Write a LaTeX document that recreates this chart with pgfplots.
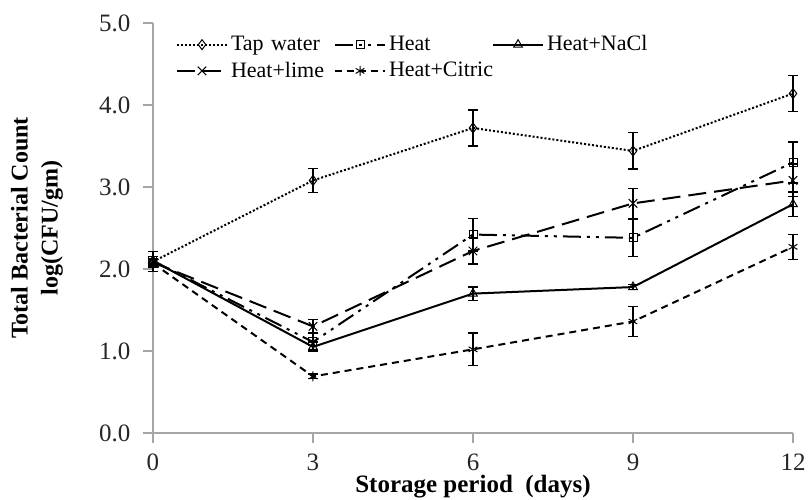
\documentclass[border=0pt]{standalone}
\usepackage{pgfplots}
\pgfplotsset{compat=1.18}
\usepackage{pgfplotstable}
\usepackage{fontspec}
\setmainfont{Liberation Serif}

% day  mean  sd
\pgfplotstableread{
x y e
0 2.09 0.12
3 3.08 0.15
6 3.72 0.22
9 3.44 0.22
12 4.14 0.22
}\tapwater
\pgfplotstableread{
x y e
0 2.10 0.05
3 1.11 0.10
6 2.42 0.20
9 2.38 0.23
12 3.30 0.25
}\heat
\pgfplotstableread{
x y e
0 2.10 0.05
3 1.05 0.06
6 1.70 0.08
9 1.78 0.03
12 2.79 0.15
}\heatnacl
\pgfplotstableread{
x y e
0 2.08 0.05
3 1.30 0.08
6 2.22 0.16
9 2.80 0.18
12 3.08 0.20
}\heatlime
\pgfplotstableread{
x y e
0 2.07 0.05
3 0.69 0.03
6 1.02 0.20
9 1.36 0.18
12 2.27 0.15
}\heatcitric

\begin{document}
\begin{tikzpicture}
\useasboundingbox (-76.5pt,-33pt) rectangle (327.5pt,216.5pt);
\begin{axis}[
    at={(0,0)}, anchor=south west,
    scale only axis,
    width=320pt, height=205pt,
    xmin=0, xmax=12,
    ymin=0, ymax=5,
    xtick={0,3,6,9,12},
    xticklabels={0,3,6,9,12},
    ytick={0,1,2,3,4,5},
    yticklabels={0.0,1.0,2.0,3.0,4.0,5.0},
    axis x line=bottom, axis y line=left,
    axis line style={-, gray!70, line width=0.6pt},
    tick style={gray!70, line width=0.6pt},
    tick align=outside,
    major tick length=5pt,
    ticklabel style={font=\rmfamily\fontsize{12.5}{14}\selectfont, text=black!85},
    yticklabel style={xshift=-2.8pt},
    xticklabel style={inner ysep=1pt, yshift=-4.2pt},
    xlabel={\textbf{Storage period\ \ (days)}},
    ylabel={\textbf{Total Bacterial Count}\\\textbf{log(CFU/gm)}},
    xlabel style={font=\rmfamily\fontsize{12.5}{14}\selectfont, inner sep=0pt,
        at={(axis description cs:0.5,0)}, anchor=center, yshift=-27pt},
    ylabel style={font=\rmfamily\fontsize{12}{15}\selectfont, align=center,
        at={(axis description cs:0,0.5)}, anchor=center, yshift=58pt},
    clip=false,
    every axis plot/.append style={black, line width=1pt},
    error bars/error bar style={black, solid, line width=0.6pt},
    error bars/error mark options={rotate=90, mark size=2.5pt, line width=0.6pt},
    legend image code/.code={%
        \draw[mark repeat=2, mark phase=2, #1] plot coordinates {(0pt,0pt)(12.5pt,0pt)(25pt,0pt)};},
    legend columns=3,
    legend cell align=left,
    legend style={draw=none, fill=none, at={(0.026,0.99)}, anchor=north west,
        font=\rmfamily\fontsize{11}{12.5}\selectfont,
        nodes={text width=50pt, inner xsep=1.5pt, align=left},
        /tikz/every even column/.append style={column sep=0pt},
        /tikz/every odd column/.append style={column sep=0pt},
        /tikz/column 2/.append style={column sep=5pt},
        /tikz/column 4/.append style={column sep=-4pt},
        row sep=0pt},
]

\addplot[densely dotted, mark=diamond, mark size=2.5pt, mark options={solid, line width=0.5pt},
    error bars/.cd, y dir=both, y explicit]
    table[x=x, y=y, y error=e] {\tapwater};
\addlegendentry{Tap water}

\addplot[dash pattern=on 9pt off 3pt on 1.5pt off 3pt on 1.5pt off 3pt, mark=square, mark size=2pt,
    mark options={solid, line width=0.5pt},
    error bars/.cd, y dir=both, y explicit]
    table[x=x, y=y, y error=e] {\heat};
\addlegendentry{Heat}

\addplot[solid, mark=triangle, mark size=2.5pt, mark options={solid, line width=0.5pt},
    error bars/.cd, y dir=both, y explicit]
    table[x=x, y=y, y error=e] {\heatnacl};
\addlegendentry{Heat+NaCl}

\addplot[dash pattern=on 9pt off 4pt, mark=x, mark size=3pt, mark options={solid, line width=0.5pt},
    error bars/.cd, y dir=both, y explicit]
    table[x=x, y=y, y error=e] {\heatlime};
\addlegendentry{Heat+lime}

\addplot[dash pattern=on 3.5pt off 2.5pt, mark=asterisk, mark size=2.5pt, mark options={solid, line width=0.5pt},
    error bars/.cd, y dir=both, y explicit]
    table[x=x, y=y, y error=e] {\heatcitric};
\addlegendentry{Heat+Citric}

\end{axis}
\end{tikzpicture}
\end{document}
